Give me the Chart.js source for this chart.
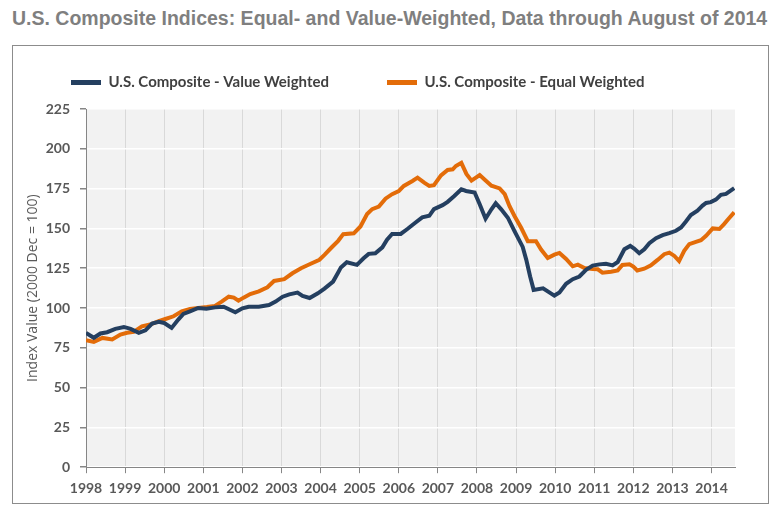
<!DOCTYPE html>
<html lang="en">
<head>
    <meta charset="UTF-8">
    <title>U.S. Composite Indices: Equal- and Value-Weighted</title>
    <script src="https://cdn.jsdelivr.net/npm/chart.js"></script>
    <style>
        body {
            margin: 0;
            padding: 0;
            background: #ffffff;
            width: 776px;
            height: 510px;
            position: relative;
            overflow: hidden;
        }
        #title {
            position: absolute;
            left: 12px;
            top: 7px;
            font-family: "Liberation Sans", Arial, sans-serif;
            font-weight: bold;
            font-size: 19.5px;
            color: #7f7f7f;
            white-space: nowrap;
        }
        #frame {
            position: absolute;
            left: 12px;
            top: 45px;
            width: 755px;
            height: 457px;
            border: 1px solid #8c8c8c;
        }
        canvas {
            position: absolute;
            left: 0;
            top: 0;
        }
    </style>
</head>
<body>

    <div id="title">U.S. Composite Indices: Equal- and Value-Weighted, Data through August of 2014</div>
    <div id="frame"></div>
    <canvas id="lineChart" width="776" height="510"></canvas>

    <script>
        // values (x = decimal year)
        const valueYears = [1998.0, 1998.2, 1998.37, 1998.54, 1998.75, 1998.97, 1999.14, 1999.35, 1999.52, 1999.69, 1999.86,
            2000.0, 2000.19, 2000.36, 2000.49, 2000.66, 2000.87, 2001.08, 2001.3, 2001.52, 2001.82,
            2002.0, 2002.16, 2002.42, 2002.68, 2002.85, 2003.03, 2003.2, 2003.41, 2003.54, 2003.72, 2003.93,
            2004.1, 2004.32, 2004.45, 2004.52, 2004.67, 2004.93, 2005.1, 2005.23, 2005.4, 2005.58, 2005.7, 2005.83,
            2006.05, 2006.22, 2006.43, 2006.6, 2006.78, 2006.9, 2007.12, 2007.25, 2007.42, 2007.6, 2007.72, 2007.94,
            2008.07, 2008.22, 2008.37, 2008.48, 2008.62, 2008.79, 2008.96, 2009.17, 2009.26, 2009.36, 2009.45,
            2009.69, 2009.86, 2009.98, 2010.11, 2010.28, 2010.45, 2010.62, 2010.79, 2010.96,
            2011.13, 2011.3, 2011.47, 2011.6, 2011.77, 2011.92, 2012.02, 2012.15, 2012.28, 2012.41, 2012.58, 2012.75, 2012.92,
            2013.09, 2013.22, 2013.34, 2013.47, 2013.64, 2013.77, 2013.86, 2013.98, 2014.11, 2014.24, 2014.37, 2014.58];
        const valueIndex = [84.4, 81.3, 84.0, 84.8, 86.9, 88.1, 86.9, 84.4, 86.0, 90.2, 91.3,
            90.6, 87.5, 92.7, 96.3, 97.9, 100.0, 99.5, 100.4, 100.8, 97.3,
            99.8, 100.8, 100.8, 101.9, 104.0, 107.1, 108.6, 109.7, 107.6, 106.3, 109.2,
            112.2, 116.6, 122.3, 125.5, 128.7, 127.1, 131.2, 134.0, 134.4, 138.1, 142.9, 146.5,
            146.5, 149.6, 153.7, 156.9, 157.9, 162.1, 164.6, 166.7, 170.4, 174.6, 173.5, 172.6,
            165.2, 156.1, 162.0, 165.8, 162.0, 156.7, 148.3, 138.4, 130.4, 119.8, 111.4,
            112.4, 109.7, 107.8, 109.7, 115.2, 118.1, 119.8, 124.0, 126.6,
            127.4, 127.8, 126.8, 128.9, 136.9, 139.0, 137.3, 134.4, 136.9, 140.7, 143.9, 145.8, 147.0,
            148.5, 150.6, 154.2, 158.4, 161.2, 164.3, 166.0, 166.5, 168.1, 171.1, 171.7, 175.3];

        const equalYears = [1998.0, 1998.2, 1998.42, 1998.67, 1998.88, 1999.05, 1999.22, 1999.43, 1999.64, 1999.86,
            2000.03, 2000.24, 2000.45, 2000.66, 2000.87, 2001.09, 2001.3, 2001.47, 2001.65, 2001.78, 2001.9,
            2002.03, 2002.2, 2002.42, 2002.64, 2002.81, 2003.07, 2003.28, 2003.5, 2003.72, 2003.97,
            2004.1, 2004.28, 2004.45, 2004.58, 2004.85, 2005.02, 2005.19, 2005.32, 2005.49, 2005.66, 2005.83,
            2006.0, 2006.13, 2006.35, 2006.48, 2006.65, 2006.78, 2006.9, 2007.08, 2007.25, 2007.38, 2007.46, 2007.6,
            2007.73, 2007.86, 2008.07, 2008.2, 2008.37, 2008.58, 2008.71, 2008.83, 2008.96, 2009.13, 2009.3, 2009.51,
            2009.64, 2009.81, 2009.98, 2010.11, 2010.28, 2010.45, 2010.58, 2010.75, 2010.96,
            2011.09, 2011.21, 2011.43, 2011.6, 2011.72, 2011.9, 2012.0, 2012.1, 2012.28, 2012.45, 2012.62, 2012.79, 2012.92,
            2013.05, 2013.17, 2013.3, 2013.43, 2013.6, 2013.73, 2013.86, 2014.03, 2014.2, 2014.32, 2014.43, 2014.58];
        const equalIndex = [79.8, 78.7, 81.2, 80.2, 83.3, 84.4, 85.0, 88.5, 89.6, 91.7,
            93.1, 94.8, 97.9, 99.4, 100.0, 100.6, 101.3, 104.0, 107.1, 106.5, 104.6,
            106.5, 108.8, 110.5, 113.0, 117.0, 118.1, 121.8, 125.0, 127.5, 130.3,
            133.4, 138.0, 142.2, 146.4, 146.9, 151.2, 159.0, 162.1, 163.7, 168.7, 171.5,
            173.5, 176.7, 179.8, 181.9, 178.7, 176.7, 177.1, 183.3, 186.7, 187.1, 189.2, 191.2,
            184.2, 180.0, 183.5, 180.6, 176.8, 175.1, 171.5, 164.1, 157.8, 150.4, 142.0, 142.0,
            136.7, 131.4, 133.5, 134.6, 130.8, 126.2, 127.2, 125.1, 124.5,
            124.3, 122.2, 122.8, 123.6, 127.0, 127.4, 126.0, 123.6, 124.7, 126.8, 130.2, 133.8, 134.8,
            132.7, 129.5, 135.9, 140.1, 141.6, 142.6, 145.4, 150.0, 149.6, 152.7, 155.9, 160.1];

        const seriesNames = ['U.S. Composite - Value Weighted', 'U.S. Composite - Equal Weighted'];
        const seriesColors = ['#243f60', '#e36c09'];
        const yearTicks = { min: 1998, max: 2014.6, step: 1 };
        const indexTicks = { min: 0, max: 225, step: 25 };

        const toPoints = (xs, ys) => xs.map((x, i) => ({ x: x, y: ys[i] }));

        // grey plot area behind the lines
        const plotBackground = {
            id: 'plotBackground',
            beforeDraw(chart) {
                const { ctx, chartArea } = chart;
                ctx.save();
                ctx.fillStyle = '#f2f2f2';
                ctx.fillRect(chartArea.left, chartArea.top, chartArea.right - chartArea.left, chartArea.bottom - chartArea.top);
                ctx.restore();
            }
        };

        const tickFont = { family: 'Lato', weight: 'bold', size: 14 };

        new Chart(document.getElementById('lineChart'), {
            type: 'line',
            data: {
                datasets: [
                    {
                        label: seriesNames[0],
                        data: toPoints(valueYears, valueIndex),
                        borderColor: seriesColors[0],
                        backgroundColor: seriesColors[0],
                        borderWidth: 4,
                        pointRadius: 0,
                        tension: 0,
                        fill: false
                    },
                    {
                        label: seriesNames[1],
                        data: toPoints(equalYears, equalIndex),
                        borderColor: seriesColors[1],
                        backgroundColor: seriesColors[1],
                        borderWidth: 4,
                        pointRadius: 0,
                        tension: 0,
                        fill: false
                    }
                ]
            },
            options: {
                responsive: false,
                animation: false,
                layout: { padding: { left: 13, right: 41, top: 17, bottom: 6 } },
                plugins: {
                    tooltip: { enabled: false },
                    legend: {
                        position: 'top',
                        align: 'start',
                        labels: {
                            boxWidth: 30,
                            boxHeight: 5,
                            padding: 58,
                            color: '#404040',
                            font: { family: 'Lato', weight: 'bold', size: 15 },
                            generateLabels: chart => Chart.defaults.plugins.legend.labels.generateLabels(chart)
                                .map(item => Object.assign(item, { lineWidth: 0 }))
                        }
                    },
                    // empty spacer between legend and plot
                    subtitle: {
                        display: true,
                        text: '',
                        position: 'top',
                        weight: 500,
                        padding: 0,
                        font: { size: 9, lineHeight: 1 }
                    }
                },
                scales: {
                    x: {
                        type: 'linear',
                        min: yearTicks.min,
                        max: yearTicks.max,
                        grid: { color: '#d9d9d9', tickColor: '#868686', tickLength: 6 },
                        border: { color: '#868686' },
                        ticks: {
                            stepSize: yearTicks.step,
                            includeBounds: false,
                            maxRotation: 0,
                            autoSkip: false,
                            padding: 7,
                            color: '#595959',
                            font: tickFont,
                            callback: v => String(v)
                        }
                    },
                    y: {
                        min: indexTicks.min,
                        max: indexTicks.max,
                        afterFit: scale => { scale.width = 73; },
                        grid: { color: '#ffffff', lineWidth: 1.5, tickColor: '#868686', tickLength: 6 },
                        border: { color: '#868686' },
                        ticks: {
                            stepSize: indexTicks.step,
                            padding: 10,
                            color: '#595959',
                            font: tickFont
                        },
                        title: {
                            display: true,
                            text: 'Index Value (2000 Dec = 100)',
                            color: '#595959',
                            font: { family: 'Open Sans', size: 14 },
                            padding: { top: 12, bottom: 4 }
                        }
                    }
                }
            },
            plugins: [plotBackground]
        });
    </script>

</body>
</html>
